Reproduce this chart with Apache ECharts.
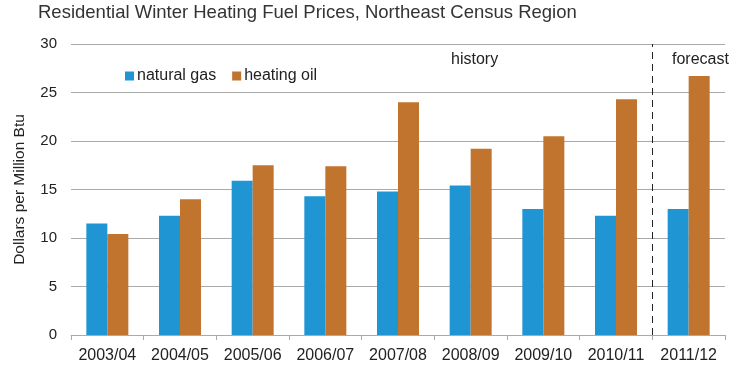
<!DOCTYPE html>
<html>
<head>
<meta charset="utf-8">
<script src="https://cdn.jsdelivr.net/npm/echarts@6/dist/echarts.min.js"></script>
<style>html,body{margin:0;padding:0;background:#fff}#c{width:750px;height:375px}</style>
</head>
<body>
<div id="c"></div>
<script>
const categories = ['2003/04','2004/05','2005/06','2006/07','2007/08','2008/09','2009/10','2010/11','2011/12'];
const naturalGas = [11.5, 12.3, 15.9, 14.3, 14.8, 15.4, 13.0, 12.3, 13.0];
const heatingOil = [10.4, 14.0, 17.5, 17.4, 24.0, 19.2, 20.5, 24.3, 26.7];
const yTicks = [0, 5, 10, 15, 20, 25, 30];
const forecastStartIndex = 8;

const chart = echarts.init(document.getElementById('c'), null, {renderer: 'canvas'});
const font = 'Liberation Sans, Arial, sans-serif';
chart.setOption({
  animation: false,
  title: {
    text: 'Residential Winter Heating Fuel Prices, Northeast Census Region',
    left: 33, top: -2,
    textStyle: {fontFamily: font, fontSize: 18.5, fontWeight: 'normal', color: '#333'}
  },
  legend: {
    left: 120, top: 63,
    itemWidth: 9, itemHeight: 9, itemGap: 16,
    icon: 'rect',
    textStyle: {fontFamily: font, fontSize: 16, color: '#222', padding: [0,0,0,-2]},
    data: ['natural gas', 'heating oil']
  },
  grid: {left: 71, right: 25, top: 44, bottom: 40},
  xAxis: [{
    type: 'category',
    data: categories,
    axisLine: {lineStyle: {color: '#aaa', width: 1}},
    axisTick: {show: true, interval: 0, length: 5, lineStyle: {color: '#aaa'}},
    axisLabel: {interval: 0, fontFamily: font, fontSize: 16, color: '#222', margin: 13},
    splitLine: {show: false}
  }, {
    type: 'value',
    min: 0, max: categories.length,
    show: false
  }],
  yAxis: {
    type: 'value',
    min: yTicks[0], max: yTicks[yTicks.length - 1], interval: 5,
    name: 'Dollars per Million Btu',
    nameLocation: 'middle', nameGap: 43,
    nameTextStyle: {fontFamily: font, fontSize: 15.5, color: '#222'},
    axisLine: {show: false},
    axisTick: {show: false},
    axisLabel: {fontFamily: font, fontSize: 15, color: '#222', margin: 14},
    splitLine: {lineStyle: {color: '#aaa', width: 1}}
  },
  series: [
    {name: 'natural gas', type: 'bar', data: naturalGas, barWidth: 21, barGap: '0%', itemStyle: {color: '#1f95d4'}},
    {name: 'heating oil', type: 'bar', data: heatingOil, barWidth: 21, barGap: '0%', itemStyle: {color: '#c0742d'}},
    {
      name: 'divider', type: 'line', xAxisIndex: 1, data: [], silent: true,
      markLine: {
        symbol: 'none', silent: true, label: {show: false},
        lineStyle: {color: '#222', type: [7, 5], width: 1},
        data: [{xAxis: forecastStartIndex}]
      }
    }
  ],
  graphic: [
    {type: 'text', left: 451, top: 52, style: {text: 'history', font: '16px ' + font, fill: '#222'}},
    {type: 'text', left: 672, top: 52, style: {text: 'forecast', font: '16px ' + font, fill: '#222'}}
  ]
});
</script>
</body>
</html>
